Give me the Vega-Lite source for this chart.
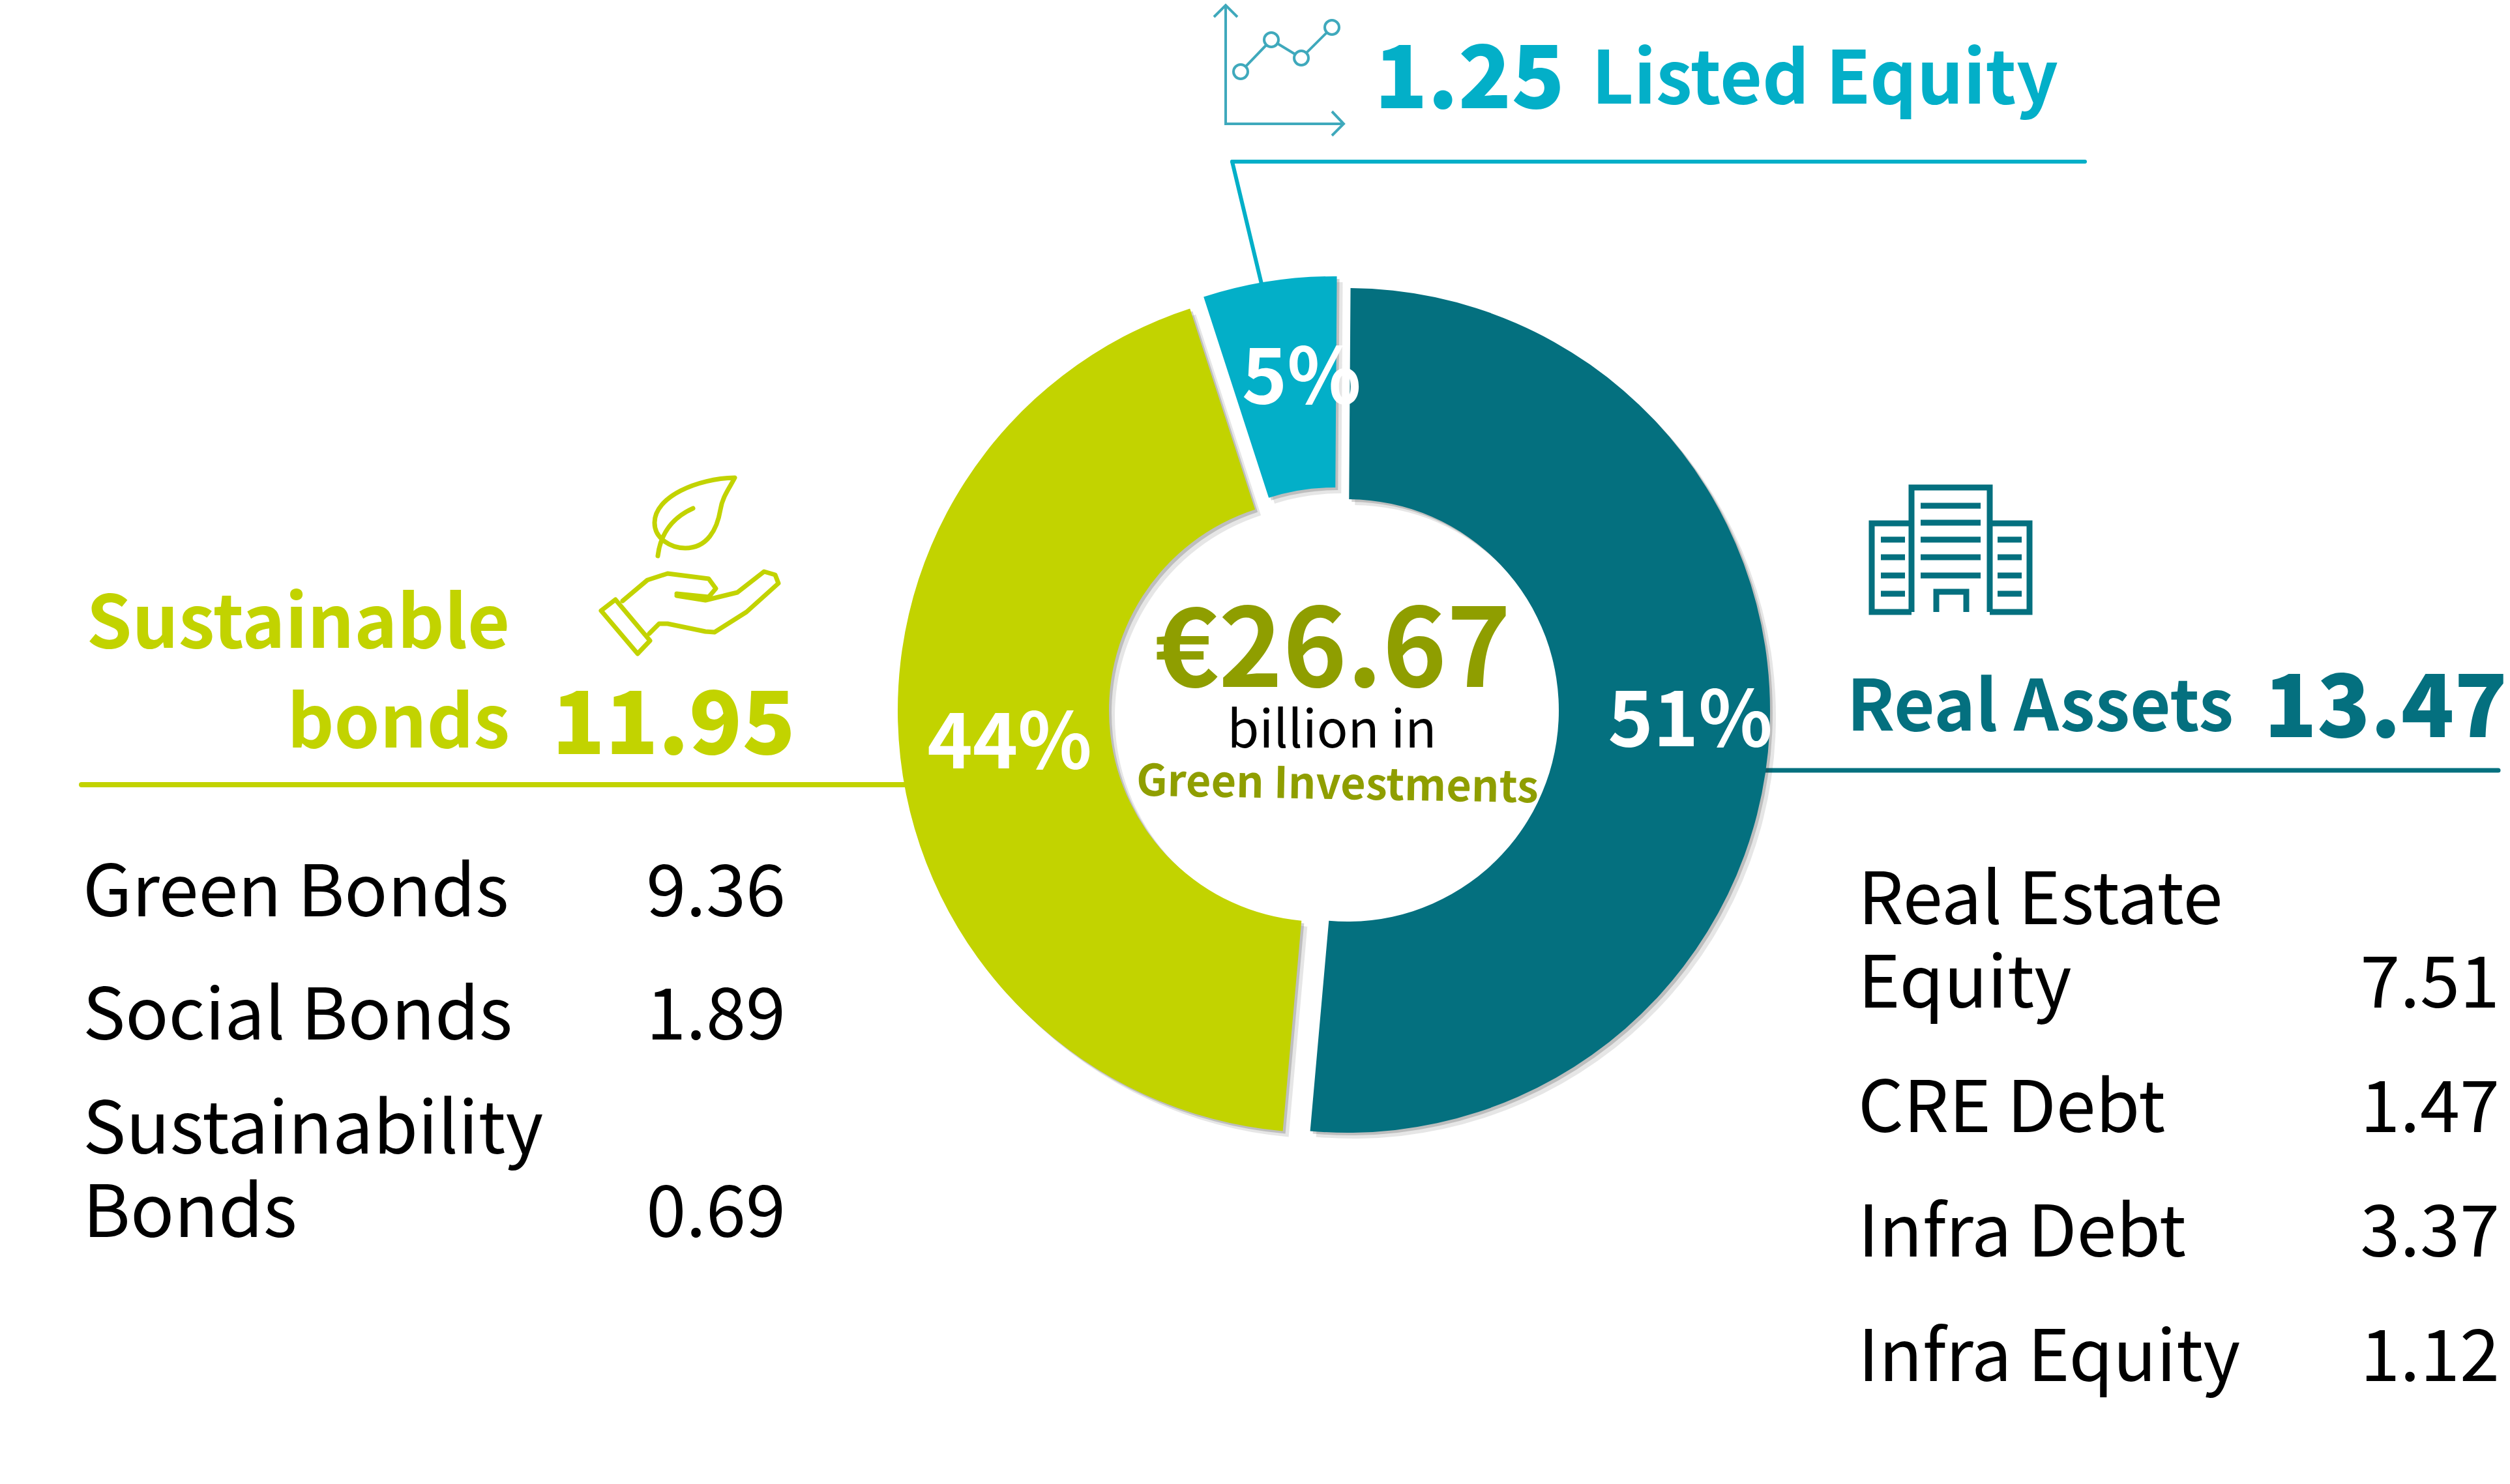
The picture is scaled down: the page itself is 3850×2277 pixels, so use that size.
{"$schema":"https://vega.github.io/schema/vega-lite/v6.json","width":3850,"height":2277,"autosize":{"type":"fit","contains":"padding"},"padding":0,"background":"#ffffff","view":{"stroke":null},
"config":{"font":"Noto Sans CJK SC","scale":{"pointPadding":0},"view":{"stroke":null}},
"datasets":{
"segments":[{"segment":"Real Assets","order":1,"pct":51.3,"pulled":"level","heading":"Real Assets","total":13.47,"share":"51%"},{"segment":"Sustainable bonds","order":2,"pct":43.6,"pulled":"level","heading":"Sustainable\nbonds","total":11.95,"share":"44%"},{"segment":"Listed Equity","order":3,"pct":5.1,"pulled":"up","heading":"Listed Equity","total":1.25,"share":"5%"}],
"items":[{"group":"Sustainable bonds","item":"Green Bonds","label":"Green Bonds","value":9.36},{"group":"Sustainable bonds","item":"Social Bonds","label":"Social Bonds","value":1.89},{"group":"Sustainable bonds","item":"Sustainability Bonds","label":"Sustainability\nBonds","value":0.69},{"group":"Real Assets","item":"Real Estate Equity","label":"Real Estate\nEquity","value":7.51},{"group":"Real Assets","item":"CRE Debt","label":"CRE Debt","value":1.47},{"group":"Real Assets","item":"Infra Debt","label":"Infra Debt","value":3.37},{"group":"Real Assets","item":"Infra Equity","label":"Infra Equity","value":1.12}],
"ends":[{"end":"from"},{"end":"to"}]
},
"resolve":{"scale":{"x":"independent","y":"independent","theta":"independent","color":"independent"}},
"layer":[
{"data":{"name":"ends"},"mark":{"type":"line","color":"#C2D300","strokeWidth":8,"strokeCap":"round"},"encoding":{"x":{"field":"end","type":"nominal","axis":null,"scale":{"type":"point","domain":["from","to"],"range":[125,1420]}},"y":{"field":"end","type":"nominal","axis":null,"scale":{"type":"point","domain":["from","to"],"range":[1196,1196]}}}},
{"data":{"name":"ends"},"mark":{"type":"line","color":"#04707F","strokeWidth":7,"strokeCap":"round"},"encoding":{"x":{"field":"end","type":"nominal","axis":null,"scale":{"type":"point","domain":["from","to"],"range":[2700,3832]}},"y":{"field":"end","type":"nominal","axis":null,"scale":{"type":"point","domain":["from","to"],"range":[1174,1174]}}}},
{"data":{"name":"ends"},"mark":{"type":"line","color":"#03AFC8","strokeWidth":6,"strokeCap":"round"},"encoding":{"x":{"field":"end","type":"nominal","axis":null,"scale":{"type":"point","domain":["from","to"],"range":[1890,3198]}},"y":{"field":"end","type":"nominal","axis":null,"scale":{"type":"point","domain":["from","to"],"range":[240,240]}}}},
{"data":{"name":"ends"},"mark":{"type":"line","color":"#03AFC8","strokeWidth":6,"strokeCap":"round"},"encoding":{"x":{"field":"end","type":"nominal","axis":null,"scale":{"type":"point","domain":["from","to"],"range":[1890,1938]}},"y":{"field":"end","type":"nominal","axis":null,"scale":{"type":"point","domain":["from","to"],"range":[240,440]}}}},

{"data":{"name":"segments"},"transform":[{"stack":"pct","sort":[{"field":"order","order":"ascending"}],"groupby":[],"as":["t0","t1"]}],"mark":{"type":"arc","radius":648,"radius2":324,"color":"#333333","opacity":0.12},"encoding":{"x":{"field":"segment","type":"nominal","axis":null,"scale":{"type":"point","domain":["Sustainable bonds","Listed Equity","Real Assets"],"range":[2034,2076]}},"y":{"field":"pulled","type":"nominal","axis":null,"scale":{"type":"point","domain":["up","level"],"range":[1073,1091]}},"theta":{"field":"t0","type":"quantitative","stack":null,"scale":{"domain":[0,100],"range":[0.007,6.2902]}},"theta2":{"field":"t1"}}},
{"data":{"name":"segments"},"transform":[{"stack":"pct","sort":[{"field":"order","order":"ascending"}],"groupby":[],"as":["t0","t1"]}],"mark":{"type":"arc","radius":648,"radius2":324,"color":"#333333","opacity":0.22},"encoding":{"x":{"field":"segment","type":"nominal","axis":null,"scale":{"type":"point","domain":["Sustainable bonds","Listed Equity","Real Assets"],"range":[2029,2071]}},"y":{"field":"pulled","type":"nominal","axis":null,"scale":{"type":"point","domain":["up","level"],"range":[1068,1086]}},"theta":{"field":"t0","type":"quantitative","stack":null,"scale":{"domain":[0,100],"range":[0.007,6.2902]}},"theta2":{"field":"t1"}}},
{"data":{"name":"segments"},"transform":[{"stack":"pct","sort":[{"field":"order","order":"ascending"}],"groupby":[],"as":["t0","t1"]}],"mark":{"type":"arc","radius":648,"radius2":324},"encoding":{"x":{"field":"segment","type":"nominal","axis":null,"scale":{"type":"point","domain":["Sustainable bonds","Listed Equity","Real Assets"],"range":[2025,2067]}},"y":{"field":"pulled","type":"nominal","axis":null,"scale":{"type":"point","domain":["up","level"],"range":[1064,1082]}},"theta":{"field":"t0","type":"quantitative","stack":null,"scale":{"domain":[0,100],"range":[0.007,6.2902]}},"theta2":{"field":"t1"},"color":{"field":"segment","type":"nominal","legend":null,"scale":{"domain":["Real Assets","Sustainable bonds","Listed Equity"],"range":["#04707F","#C2D300","#03AFC8"]}}}},

{"data":{"name":"segments"},"transform":[{"filter":"datum.segment=='Real Assets'"}],"mark":{"type":"text","align":"right","baseline":"alphabetic","fontSize":118,"fontWeight":700,"color":"#ffffff"},"encoding":{"text":{"field":"share"},"x":{"field":"segment","type":"nominal","axis":null,"scale":{"type":"point","domain":["Real Assets"],"range":[2719,2719]}},"y":{"field":"segment","type":"nominal","axis":null,"scale":{"type":"point","domain":["Real Assets"],"range":[1137,1137]}}}},
{"data":{"name":"segments"},"transform":[{"filter":"datum.segment=='Sustainable bonds'"}],"mark":{"type":"text","align":"right","baseline":"alphabetic","fontSize":118,"fontWeight":700,"color":"#ffffff"},"encoding":{"text":{"field":"share"},"x":{"field":"segment","type":"nominal","axis":null,"scale":{"type":"point","domain":["Sustainable bonds"],"range":[1675,1675]}},"y":{"field":"segment","type":"nominal","axis":null,"scale":{"type":"point","domain":["Sustainable bonds"],"range":[1171,1171]}}}},
{"data":{"name":"segments"},"transform":[{"filter":"datum.segment=='Listed Equity'"}],"mark":{"type":"text","align":"right","baseline":"alphabetic","fontSize":118,"fontWeight":700,"color":"#ffffff"},"encoding":{"text":{"field":"share"},"x":{"field":"segment","type":"nominal","axis":null,"scale":{"type":"point","domain":["Listed Equity"],"range":[2088,2088]}},"y":{"field":"segment","type":"nominal","axis":null,"scale":{"type":"point","domain":["Listed Equity"],"range":[611,611]}}}},

{"data":{"name":"segments"},"transform":[{"filter":"datum.segment=='Sustainable bonds'"}],"mark":{"type":"text","align":"right","baseline":"alphabetic","fontSize":112,"fontWeight":700,"lineBreak":"\n","lineHeight":153,"color":"#C2D300"},"encoding":{"text":{"field":"heading"},"x":{"field":"segment","type":"nominal","axis":null,"scale":{"type":"point","domain":["Sustainable bonds"],"range":[782,782]}},"y":{"field":"segment","type":"nominal","axis":null,"scale":{"type":"point","domain":["Sustainable bonds"],"range":[986,986]}}}},
{"data":{"name":"segments"},"transform":[{"filter":"datum.segment=='Real Assets'"}],"mark":{"type":"text","align":"right","baseline":"alphabetic","fontSize":108,"fontWeight":700,"color":"#04707F"},"encoding":{"text":{"field":"heading"},"x":{"field":"segment","type":"nominal","axis":null,"scale":{"type":"point","domain":["Real Assets"],"range":[3426,3426]}},"y":{"field":"segment","type":"nominal","axis":null,"scale":{"type":"point","domain":["Real Assets"],"range":[1113,1113]}}}},
{"data":{"name":"segments"},"transform":[{"filter":"datum.segment=='Listed Equity'"}],"mark":{"type":"text","align":"right","baseline":"alphabetic","fontSize":112,"fontWeight":700,"color":"#03AFC8"},"encoding":{"text":{"field":"heading"},"x":{"field":"segment","type":"nominal","axis":null,"scale":{"type":"point","domain":["Listed Equity"],"range":[3157,3157]}},"y":{"field":"segment","type":"nominal","axis":null,"scale":{"type":"point","domain":["Listed Equity"],"range":[151,151]}}}},

{"data":{"name":"segments"},"transform":[{"filter":"datum.segment=='Sustainable bonds'"}],"mark":{"type":"text","align":"right","baseline":"alphabetic","fontSize":134,"fontWeight":900,"color":"#C2D300"},"encoding":{"text":{"field":"total","type":"quantitative","format":".2f"},"x":{"field":"segment","type":"nominal","axis":null,"scale":{"type":"point","domain":["Sustainable bonds"],"range":[1220,1220]}},"y":{"field":"segment","type":"nominal","axis":null,"scale":{"type":"point","domain":["Sustainable bonds"],"range":[1149,1149]}}}},
{"data":{"name":"segments"},"transform":[{"filter":"datum.segment=='Real Assets'"}],"mark":{"type":"text","align":"right","baseline":"alphabetic","fontSize":134,"fontWeight":900,"color":"#04707F"},"encoding":{"text":{"field":"total","type":"quantitative","format":".2f"},"x":{"field":"segment","type":"nominal","axis":null,"scale":{"type":"point","domain":["Real Assets"],"range":[3846,3846]}},"y":{"field":"segment","type":"nominal","axis":null,"scale":{"type":"point","domain":["Real Assets"],"range":[1123,1123]}}}},
{"data":{"name":"segments"},"transform":[{"filter":"datum.segment=='Listed Equity'"}],"mark":{"type":"text","align":"right","baseline":"alphabetic","fontSize":134,"fontWeight":900,"color":"#03AFC8"},"encoding":{"text":{"field":"total","type":"quantitative","format":".2f"},"x":{"field":"segment","type":"nominal","axis":null,"scale":{"type":"point","domain":["Listed Equity"],"range":[2400,2400]}},"y":{"field":"segment","type":"nominal","axis":null,"scale":{"type":"point","domain":["Listed Equity"],"range":[158,158]}}}},

{"data":{"name":"items"},"transform":[{"filter":"datum.group=='Sustainable bonds' && datum.item!='Sustainability Bonds'"}],"mark":{"type":"text","align":"left","baseline":"alphabetic","fontSize":109.5,"color":"#000000"},"encoding":{"text":{"field":"label"},"x":{"field":"group","type":"nominal","axis":null,"scale":{"type":"point","domain":["Sustainable bonds"],"range":[127,127]}},"y":{"field":"item","type":"nominal","axis":null,"scale":{"type":"point","domain":["Green Bonds","Social Bonds"],"range":[1398,1587]}}}},
{"data":{"name":"items"},"transform":[{"filter":"datum.group=='Sustainable bonds' && datum.item!='Sustainability Bonds'"}],"mark":{"type":"text","align":"right","baseline":"alphabetic","fontSize":110,"color":"#000000"},"encoding":{"text":{"field":"value","type":"quantitative","format":".2f"},"x":{"field":"group","type":"nominal","axis":null,"scale":{"type":"point","domain":["Sustainable bonds"],"range":[1205,1205]}},"y":{"field":"item","type":"nominal","axis":null,"scale":{"type":"point","domain":["Green Bonds","Social Bonds"],"range":[1398,1587]}}}},
{"data":{"name":"items"},"transform":[{"filter":"datum.item=='Sustainability Bonds'"}],"mark":{"type":"text","align":"left","baseline":"alphabetic","fontSize":111,"lineBreak":"\n","lineHeight":128,"color":"#000000"},"encoding":{"text":{"field":"label"},"x":{"field":"group","type":"nominal","axis":null,"scale":{"type":"point","domain":["Sustainable bonds"],"range":[127,127]}},"y":{"field":"item","type":"nominal","axis":null,"scale":{"type":"point","domain":["Sustainability Bonds"],"range":[1762,1762]}}}},
{"data":{"name":"items"},"transform":[{"filter":"datum.item=='Sustainability Bonds'"}],"mark":{"type":"text","align":"right","baseline":"alphabetic","fontSize":110,"color":"#000000"},"encoding":{"text":{"field":"value","type":"quantitative","format":".2f"},"x":{"field":"group","type":"nominal","axis":null,"scale":{"type":"point","domain":["Sustainable bonds"],"range":[1205,1205]}},"y":{"field":"item","type":"nominal","axis":null,"scale":{"type":"point","domain":["Sustainability Bonds"],"range":[1890,1890]}}}},
{"data":{"name":"items"},"transform":[{"filter":"datum.item=='Real Estate Equity'"}],"mark":{"type":"text","align":"left","baseline":"alphabetic","fontSize":110,"lineBreak":"\n","lineHeight":128,"color":"#000000"},"encoding":{"text":{"field":"label"},"x":{"field":"group","type":"nominal","axis":null,"scale":{"type":"point","domain":["Real Assets"],"range":[2850,2850]}},"y":{"field":"item","type":"nominal","axis":null,"scale":{"type":"point","domain":["Real Estate Equity"],"range":[1410,1410]}}}},
{"data":{"name":"items"},"transform":[{"filter":"datum.group=='Real Assets' && datum.item!='Real Estate Equity'"}],"mark":{"type":"text","align":"left","baseline":"alphabetic","fontSize":109.5,"color":"#000000"},"encoding":{"text":{"field":"label"},"x":{"field":"group","type":"nominal","axis":null,"scale":{"type":"point","domain":["Real Assets"],"range":[2850,2850]}},"y":{"field":"item","type":"nominal","axis":null,"scale":{"type":"point","domain":["CRE Debt","Infra Debt","Infra Equity"],"range":[1729,2111]}}}},
{"data":{"name":"items"},"transform":[{"filter":"datum.group=='Real Assets'"}],"mark":{"type":"text","align":"right","baseline":"alphabetic","fontSize":110,"color":"#000000"},"encoding":{"text":{"field":"value","type":"quantitative","format":".2f"},"x":{"field":"group","type":"nominal","axis":null,"scale":{"type":"point","domain":["Real Assets"],"range":[3834,3834]}},"y":{"field":"item","type":"nominal","axis":null,"scale":{"type":"point","domain":["Real Estate Equity","CRE Debt","Infra Debt","Infra Equity"],"range":[1538,2111]}}}},

{"data":{"values":[{"line":"€26.67"}]},"mark":{"type":"text","align":"center","baseline":"alphabetic","fontSize":167,"fontWeight":700,"color":"#8F9E00"},"encoding":{"text":{"field":"line"},"x":{"field":"line","type":"nominal","axis":null,"scale":{"type":"point","domain":["€26.67"],"range":[2044,2044]}},"y":{"field":"line","type":"nominal","axis":null,"scale":{"type":"point","domain":["€26.67"],"range":[1046,1046]}}}},
{"data":{"values":[{"line":"billion in"}]},"mark":{"type":"text","align":"center","baseline":"alphabetic","fontSize":79,"color":"#000000"},"encoding":{"text":{"field":"line"},"x":{"field":"line","type":"nominal","axis":null,"scale":{"type":"point","domain":["billion in"],"range":[2043,2043]}},"y":{"field":"line","type":"nominal","axis":null,"scale":{"type":"point","domain":["billion in"],"range":[1139,1139]}}}},
{"data":{"values":[{"line":"Green Investments"}]},"mark":{"type":"text","align":"center","baseline":"alphabetic","fontSize":66.5,"fontWeight":700,"angle":1,"color":"#8F9E00"},"encoding":{"text":{"field":"line"},"x":{"field":"line","type":"nominal","axis":null,"scale":{"type":"point","domain":["Green Investments"],"range":[2051,2051]}},"y":{"field":"line","type":"nominal","axis":null,"scale":{"type":"point","domain":["Green Investments"],"range":[1218,1218]}}}},

{"data":{"values":[{"icon":"Listed Equity chart"}]},"mark":{"type":"point","filled":false,"size":4,"opacity":1,"color":"#3FA9BC","strokeWidth":4,"shape":"M-80,-95 L-80,85 L101,85 M-98,-79 L-80,-97 L-62,-79 M83,66 L101,85 L83,103 M-49.4,-2.9 L-17.6,-36 M-.6,-38.3 L26.6,-21.7 M43.8,-23.8 L75.2,-55.2 M-68,5 a11,11 0 1,0 22,0 a11,11 0 1,0 -22,0 M-21,-44 a11,11 0 1,0 22,0 a11,11 0 1,0 -22,0 M25,-16 a11,11 0 1,0 22,0 a11,11 0 1,0 -22,0 M72,-63 a11,11 0 1,0 22,0 a11,11 0 1,0 -22,0"},"encoding":{"x":{"field":"icon","type":"nominal","axis":null,"scale":{"type":"point","domain":["Listed Equity chart"],"range":[1960,1960]}},"y":{"field":"icon","type":"nominal","axis":null,"scale":{"type":"point","domain":["Listed Equity chart"],"range":[97,97]}}}},
{"data":{"values":[{"icon":"Sustainable hand"}]},"mark":{"type":"point","filled":false,"size":4,"opacity":1,"color":"#C2D300","strokeWidth":7,"strokeJoin":"round","strokeCap":"round","shape":"M77,-169 C20,-168 -46,-140 -46,-100 C-46,-75 -20,-61 1,-61 C35,-61 50,-90 55,-120 C58,-140 70,-155 77,-169 Z M-41,-49 C-38,-75 -25,-105 13,-122 M-106,18 L-53,81 L-72,101 L-128,35 Z M-95,20 L-57,-12 L-26,-22 L37,-14 L48,1 L37,14 L-12,9 M-12,12 L32,19 L81,7 L122,-25 L139,-20 L144,-7 L95,37 L46,68 L32,67 L-26,55 L-39,55 L-54,70"},"encoding":{"x":{"field":"icon","type":"nominal","axis":null,"scale":{"type":"point","domain":["Sustainable hand"],"range":[1050,1050]}},"y":{"field":"icon","type":"nominal","axis":null,"scale":{"type":"point","domain":["Sustainable hand"],"range":[894,894]}}}},
{"data":{"values":[{"icon":"Real Assets building"}]},"mark":{"type":"point","filled":false,"size":4,"opacity":1,"color":"#04707F","strokeWidth":9,"shape":"M-60,96 L-60,-95 L60,-95 L60,96 M-60,-40 L-121,-40 L-121,96 L-60,96 M60,-40 L121,-40 L121,96 L60,96 M-22,96 L-22,65 L24,65 L24,96 M-46,-67 L46,-67 M-46,-41 L46,-41 M-46,-15 L46,-15 M-46,12 L46,12 M-46,40 L46,40 M-107,-15 L-70,-15 M-107,12 L-70,12 M-107,40 L-70,40 M-107,68 L-70,68 M72,-15 L109,-15 M72,12 L109,12 M72,40 L109,40 M72,68 L109,68"},"encoding":{"x":{"field":"icon","type":"nominal","axis":null,"scale":{"type":"point","domain":["Real Assets building"],"range":[2992,2992]}},"y":{"field":"icon","type":"nominal","axis":null,"scale":{"type":"point","domain":["Real Assets building"],"range":[835,835]}}}}
]}
